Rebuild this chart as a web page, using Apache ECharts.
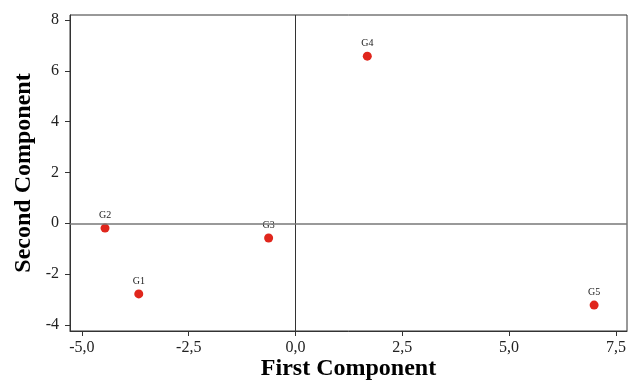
<!DOCTYPE html>
<html><head><meta charset="utf-8">
<script src="https://cdn.jsdelivr.net/npm/echarts@6/dist/echarts.min.js"></script>
<style>html,body{margin:0;padding:0;background:#fff}#c{width:630px;height:381px}</style>
</head><body><div id="c"></div>
<script>
const names = ['G1','G2','G3','G4','G5'];
const firstComp = [-3.67, -4.46, -0.63, 1.68, 6.99];
const secondComp = [-2.78, -0.19, -0.58, 6.58, -3.22];
const xTicks = [-5, -2.5, 0, 2.5, 5, 7.5];
const yTicks = [-4, -2, 0, 2, 4, 6, 8];

const data = names.map((n, i) => ({ name: n, value: [firstComp[i], secondComp[i]] }));
const font = 'Liberation Serif';
const chart = echarts.init(document.getElementById('c'));
chart.setOption({
  animation: false,
  grid: { left: 70, right: 3, top: 15, bottom: 50, outerBoundsMode: 'none', containLabel: false,
    show: true, borderColor: '#333', borderWidth: 1, backgroundColor: 'transparent' },
  xAxis: {
    type: 'value', min: -5.28, max: 7.76,
    name: 'First Component', nameLocation: 'middle', nameGap: 26, nameMoveOverlap: false,
    nameTextStyle: { fontFamily: font, fontWeight: 'bold', fontSize: 24, color: '#000' },
    axisLine: { show: true, onZero: false, lineStyle: { color: '#333' } },
    axisTick: { show: true, length: 5, customValues: xTicks, lineStyle: { color: '#333' } },
    axisLabel: { customValues: xTicks, fontFamily: font, fontSize: 16, color: '#222', margin: 9,
      formatter: v => v.toFixed(1).replace('.', ',') },
    splitLine: { show: false }
  },
  yAxis: {
    type: 'value', min: -4.24, max: 8.2,
    name: 'Second Component', nameLocation: 'middle', nameGap: 34, nameMoveOverlap: false,
    nameTextStyle: { fontFamily: font, fontWeight: 'bold', fontSize: 24, color: '#000' },
    axisLine: { show: true, onZero: false, lineStyle: { color: '#333' } },
    axisTick: { show: true, length: 5, customValues: yTicks, lineStyle: { color: '#333' } },
    axisLabel: { customValues: yTicks, fontFamily: font, fontSize: 16, color: '#222', margin: 11,
      formatter: v => String(v) },
    splitLine: { show: false }
  },
  series: [{
    type: 'scatter', data: data, symbolSize: 9,
    itemStyle: { color: '#e0261c', opacity: 1 },
    label: { show: true, position: 'top', distance: 3, formatter: p => p.name, fontFamily: font, fontSize: 10, color: '#222' },
    markLine: {
      silent: true, symbol: 'none', label: { show: false }, animation: false,
      data: [
        { xAxis: 0, lineStyle: { color: '#333', width: 1, type: 'solid' } },
        { yAxis: 0, lineStyle: { color: '#777', width: 1.5, type: 'solid' } }
      ]
    }
  }]
});
</script></body></html>
